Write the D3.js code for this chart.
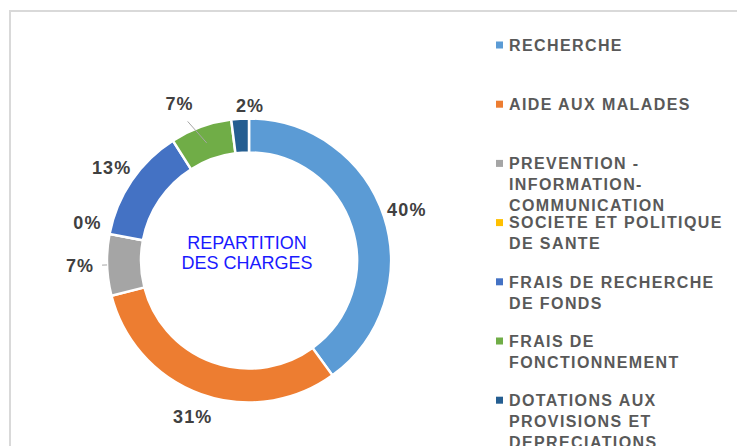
<!DOCTYPE html>
<html>
<head>
<meta charset="utf-8">
<script src="https://cdn.jsdelivr.net/npm/d3@7"></script>
<style>
	body { margin: 0; background: #fff; }
	svg { display: block; font-family: "Liberation Sans", Arial, sans-serif; }
</style>
</head>
<body>
<svg id="chart" width="737" height="446"></svg>
<script>
// chart data
var categories = [
	'RECHERCHE',
	'AIDE AUX MALADES',
	'PREVENTION - INFORMATION-COMMUNICATION',
	'SOCIETE ET POLITIQUE DE SANTE',
	'FRAIS DE RECHERCHE DE FONDS',
	'FRAIS DE FONCTIONNEMENT',
	'DOTATIONS AUX PROVISIONS ET DEPRECIATIONS'
];
var shares = [40, 31, 7, 0, 13, 7, 2];
var colors = ['#5B9BD5', '#ED7D31', '#A5A5A5', '#FFC000', '#4472C4', '#70AD47', '#255E91'];
var centerTitle = ['REPARTITION', 'DES CHARGES'];

var svg = d3.select('#chart'),
	cx = 249,
	cy = 260.5,
	outerR = 142,
	innerR = 108,
	labelR = 166;

// frame
svg.append('rect')
	.attr('x', 10).attr('y', 11)
	.attr('width', 760).attr('height', 460)
	.attr('fill', 'none')
	.attr('stroke', '#d9d9d9')
	.attr('stroke-width', 2);

var pie = d3.pie().sort(null).value(function (d) { return d; });
var arcs = pie(shares);

var arc = d3.arc().innerRadius(innerR).outerRadius(outerR);

var g = svg.append('g').attr('transform', 'translate(' + cx + ',' + cy + ')');

g.selectAll('path')
	.data(arcs)
	.enter().append('path')
	.attr('d', arc)
	.attr('fill', function (d, i) { return colors[i]; })
	.attr('stroke', '#fff')
	.attr('stroke-width', 2.5);

// labels, a few moved by hand like excel does
var labelAdjust = {
	2: { r: 169, leader: [outerR, 147] },
	3: { da: 2.6 },
	5: { da: -4, r: 172, leader: [125, 152] },
	6: { da: 4, r: 155 }
};

function polar(angle, r) {
	return [Math.sin(angle) * r, -Math.cos(angle) * r];
}

arcs.forEach(function (d, i) {
	var adj = labelAdjust[i] || {},
		mid = (d.startAngle + d.endAngle) / 2,
		ang = mid + (adj.da || 0) * Math.PI / 180,
		r = adj.r || labelR,
		p = polar(ang, r);

	if (adj.leader) {
		var a = polar(mid, adj.leader[0]),
			b = polar(ang, adj.leader[1]);
		g.append('line')
			.attr('x1', a[0]).attr('y1', a[1])
			.attr('x2', b[0]).attr('y2', b[1])
			.attr('stroke', '#a6a6a6')
			.attr('stroke-width', 1);
	}

	g.append('text')
		.attr('x', p[0]).attr('y', p[1])
		.attr('dy', '0.36em')
		.attr('text-anchor', 'middle')
		.attr('font-size', 18)
		.attr('font-weight', 'bold')
		.attr('letter-spacing', 1.2)
		.attr('fill', '#404040')
		.text(d3.format('.0%')(d.data / 100));
});

// title in the hole
g.selectAll('text.title')
	.data(centerTitle)
	.enter().append('text')
	.attr('class', 'title')
	.attr('x', -2)
	.attr('y', function (d, i) { return -18 + i * 20; })
	.attr('dy', '0.36em')
	.attr('text-anchor', 'middle')
	.attr('font-size', 18)
	.attr('fill', '#1a1aff')
	.text(function (d) { return d; });

// legend
var legendX = 496,
	legendTop = 45,
	legendStep = 59.2,
	lineH = 21,
	maxW = 220;

var legend = svg.append('g').attr('class', 'legend');

function tokens(name) {
	// split on spaces and after hyphens inside words
	var out = [];
	name.split(' ').forEach(function (w) {
		var parts = w.length > 1 ? w.split(/(?<=-)/) : [w];
		parts.forEach(function (p, k) {
			out.push({ text: p, glue: k > 0 ? '' : ' ' });
		});
	});
	return out;
}

var measure = legend.append('text')
	.attr('font-size', 16).attr('font-weight', 'bold').attr('letter-spacing', 1.4);

function wrap(name) {
	var lines = [], cur = '';
	tokens(name).forEach(function (t) {
		var next = cur ? cur + t.glue + t.text : t.text;
		measure.text(next);
		if (cur && measure.node().getComputedTextLength() > maxW) {
			lines.push(cur);
			cur = t.text;
		} else {
			cur = next;
		}
	});
	lines.push(cur);
	return lines;
}

categories.forEach(function (name, i) {
	var y0 = legendTop + i * legendStep;

	legend.append('rect')
		.attr('x', legendX).attr('y', y0 - 3.5)
		.attr('width', 7).attr('height', 7)
		.attr('fill', colors[i]);

	var txt = legend.append('text')
		.attr('font-size', 16)
		.attr('font-weight', 'bold')
		.attr('letter-spacing', 1.4)
		.attr('fill', '#595959');

	wrap(name).forEach(function (line, k) {
		txt.append('tspan')
			.attr('x', legendX + 13)
			.attr('y', y0 + k * lineH)
			.attr('dy', '0.36em')
			.text(line);
	});
});

measure.remove();
</script>
</body>
</html>
